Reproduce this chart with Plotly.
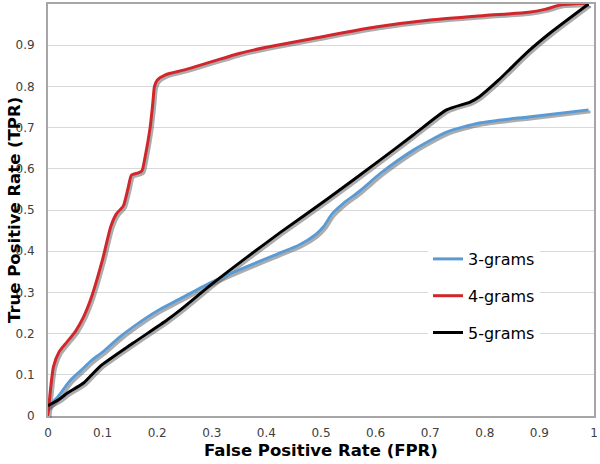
import plotly.graph_objects as go

# ---- data ----
fpr_3 = [0.0, 0.01, 0.02, 0.04, 0.06, 0.08, 0.10, 0.13, 0.16, 0.20, 0.24, 0.30,
         0.36, 0.42, 0.46, 0.49, 0.505, 0.52, 0.54, 0.57, 0.61, 0.67, 0.73, 0.79, 0.88, 0.99]
tpr_3 = [0.02, 0.035, 0.05, 0.085, 0.11, 0.135, 0.155, 0.19, 0.22, 0.255, 0.283, 0.325,
         0.36, 0.393, 0.415, 0.44, 0.46, 0.49, 0.515, 0.545, 0.59, 0.646, 0.689, 0.711, 0.726, 0.743]

fpr_4 = [0.0, 0.005, 0.01, 0.02, 0.035, 0.05, 0.065, 0.08, 0.10, 0.115, 0.125, 0.138,
         0.147, 0.153, 0.165, 0.172, 0.178, 0.187, 0.192, 0.195, 0.20, 0.215, 0.25, 0.30,
         0.35, 0.40, 0.50, 0.60, 0.70, 0.80, 0.88, 0.91, 0.94, 0.97, 0.99]
tpr_4 = [0.0, 0.07, 0.12, 0.155, 0.18, 0.205, 0.24, 0.29, 0.38, 0.46, 0.49, 0.51,
         0.555, 0.585, 0.59, 0.595, 0.63, 0.70, 0.76, 0.80, 0.815, 0.828, 0.84, 0.86,
         0.88, 0.895, 0.92, 0.944, 0.961, 0.972, 0.98, 0.987, 0.998, 1.0, 1.0]

fpr_5 = [0.0, 0.02, 0.035, 0.065, 0.095, 0.156, 0.218, 0.242, 0.30, 0.364, 0.425, 0.511,
         0.608, 0.669, 0.73, 0.773, 0.79, 0.825, 0.877, 0.919, 0.99]
tpr_5 = [0.025, 0.04, 0.055, 0.08, 0.12, 0.177, 0.233, 0.257, 0.32, 0.385, 0.445, 0.526,
         0.621, 0.682, 0.743, 0.762, 0.775, 0.815, 0.882, 0.929, 1.0]

series_names = ["3-grams", "4-grams", "5-grams"]
series_colors = ["#5b9bd5", "#d0262c", "#000000"]
series_x = [fpr_3, fpr_4, fpr_5]
series_y = [tpr_3, tpr_4, tpr_5]

tick_vals = [0, 0.1, 0.2, 0.3, 0.4, 0.5, 0.6, 0.7, 0.8, 0.9, 1]
tick_text = ["0", "0.1", "0.2", "0.3", "0.4", "0.5", "0.6", "0.7", "0.8", "0.9", "1"]

FONT = "DejaVu Sans"
W, H = 600, 464
ML, MR, MT, MB = 48, 4, 4, 46
PW = W - ML - MR
PH = H - MT - MB
S = 2  # shadow offset in px

main_xdom = [0, (PW - S) / PW]
main_ydom = [S / PH, 1]
shad_xdom = [S / PW, 1]
shad_ydom = [0, (PH - S) / PH]

fig = go.Figure()

# subplot 1 (x, y): frame, grid and ticks only -> an invisible helper trace
fig.add_trace(go.Scatter(x=[None], y=[None], mode="lines", showlegend=False,
                         hoverinfo="skip"))

# subplot 2 (x2, y2): drop shadows, same data on axes shifted a couple of pixels
for xs, ys in zip(series_x, series_y):
    fig.add_trace(go.Scatter(
        x=xs, y=ys, mode="lines", xaxis="x2", yaxis="y2",
        line=dict(color="rgba(90,90,90,0.5)", width=3, shape="spline", smoothing=0.6),
        showlegend=False, hoverinfo="skip"))

# subplot 3 (x3, y3): the coloured curves, same domain as subplot 1
for name, col, xs, ys in zip(series_names, series_colors, series_x, series_y):
    fig.add_trace(go.Scatter(
        x=xs, y=ys, mode="lines", name=name, legendgroup=name,
        xaxis="x3", yaxis="y3",
        line=dict(color=col, width=3, shape="spline", smoothing=0.6)))

axis_common = dict(
    range=[0, 1], tickvals=tick_vals, ticktext=tick_text,
    gridcolor="#d9d9d9", gridwidth=1,
    zeroline=False, showline=True, linecolor="#a6a6a6", linewidth=2, mirror=True,
    ticks="", tickfont=dict(family=FONT, size=12, color="#404040"),
    fixedrange=True,
)

hidden = dict(range=[0, 1], visible=False, fixedrange=True, showgrid=False)

fig.update_layout(
    width=W, height=H,
    margin=dict(l=ML, r=MR, t=MT, b=MB, autoexpand=False),
    paper_bgcolor="white", plot_bgcolor="rgba(0,0,0,0)",
    xaxis=dict(domain=main_xdom, ticklabelstandoff=5, anchor="y", showgrid=False,
               **axis_common),
    yaxis=dict(domain=main_ydom, ticklabelstandoff=9, anchor="x", showgrid=True,
               **axis_common),
    xaxis2=dict(domain=shad_xdom, anchor="y2", **hidden),
    yaxis2=dict(domain=shad_ydom, anchor="x2", **hidden),
    xaxis3=dict(domain=main_xdom, anchor="y3", **hidden),
    yaxis3=dict(domain=main_ydom, anchor="x3", **hidden),
    legend=dict(
        x=(428 - ML) / PW, y=(MT + PH - 242) / PH, xanchor="left", yanchor="top",
        bgcolor="white", borderwidth=0,
        font=dict(family=FONT, size=16, color="#000000"),
        tracegroupgap=13, itemwidth=30,
    ),
    annotations=[
        dict(text="<b>False Positive Rate (FPR)</b>", xref="paper", yref="paper",
             x=(321 - ML) / PW, y=(MT + PH - 451) / PH, xanchor="center", yanchor="middle",
             showarrow=False, font=dict(family=FONT, size=16.5, color="#000000")),
        dict(text="<b>True Positive Rate (TPR)</b>", xref="paper", yref="paper",
             x=(14 - ML) / PW, y=(MT + PH - 210) / PH, xanchor="center", yanchor="middle",
             textangle=-90, showarrow=False,
             font=dict(family=FONT, size=16.5, color="#000000")),
    ],
)

fig.write_html("out.html", config={"displayModeBar": False},
               post_script="document.body.style.margin='0';")
